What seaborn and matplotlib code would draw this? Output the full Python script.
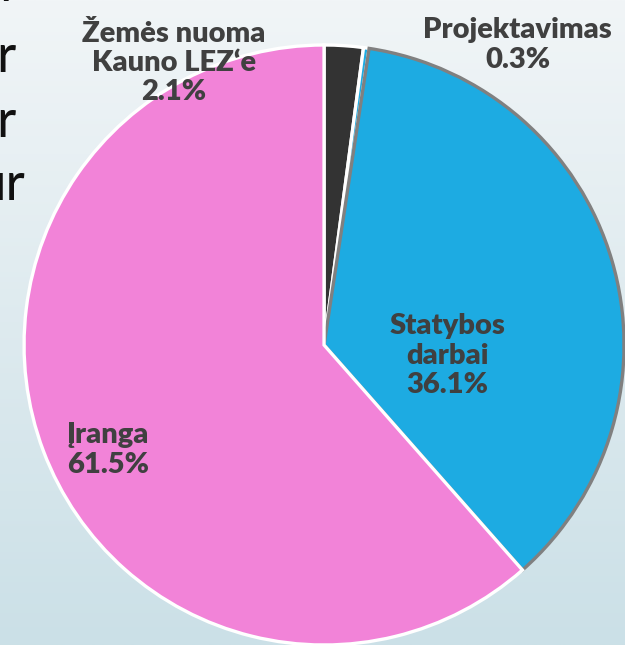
import numpy as np
import seaborn as sns
import matplotlib.pyplot as plt

# data
labels = ["Žemės nuoma\nKauno LEZ‘e", "Projektavimas", "Statybos\ndarbai", "Įranga"]
shares = [2.1, 0.3, 36.1, 61.5]
colors = ["#333333", "#1DABE2", "#1DABE2", "#F283D8"]
edge_colors = ["white", "white", "#808080", "white"]

# label anchor points, in pie radius units
label_pos = [(-0.50, 0.94), (0.645, 1.0), (0.41, -0.035), (-0.72, -0.35)]

sns.set_style("white")
plt.rcParams["font.family"] = ["Lato", "DejaVu Sans"]

fig = plt.figure(figsize=(6.25, 6.45), dpi=100)
ax = fig.add_axes([0, 0, 1, 1])

# gradient background like the slide
grad = np.linspace(0, 1, 256).reshape(-1, 1)
bg = sns.blend_palette(["#F1F5F7", "#CBE0E7"], as_cmap=True)
ax.imshow(grad, extent=[-1.08, 1.003, -1.0, 1.15], cmap=bg, aspect="auto", zorder=0)

wedges, _ = ax.pie(
    shares,
    colors=sns.color_palette(colors),
    startangle=90,
    counterclock=False,
    radius=1.0,
)
for w, ec in zip(wedges, edge_colors):
    w.set_edgecolor(ec)
    w.set_linewidth(2.4)
    w.set_zorder(2)

for lab, val, (x, y) in zip(labels, shares, label_pos):
    ax.text(x, y, f"{lab}\n{val}%", ha="center", va="center",
            fontsize=21, fontweight="heavy", color="#404040",
            linespacing=1.15, zorder=5)

ax.set_xlim(-1.08, 1.003)
ax.set_ylim(-1.0, 1.15)
ax.set_aspect("equal")
ax.axis("off")

# bits of slide text cut off at the left edge
W, H = 625, 645
fig.text(12 / W, 1 - 10 / H, "l", ha="right", va="bottom",
         fontsize=38, color="#111111")
for s, px, py in [("r", 15, 72), ("r", 15, 137), ("ur", 25, 200)]:
    fig.text(px / W, 1 - py / H, s, ha="right", va="baseline",
             fontsize=38, fontweight="normal", color="#111111")

plt.savefig("out.png", dpi=100)
